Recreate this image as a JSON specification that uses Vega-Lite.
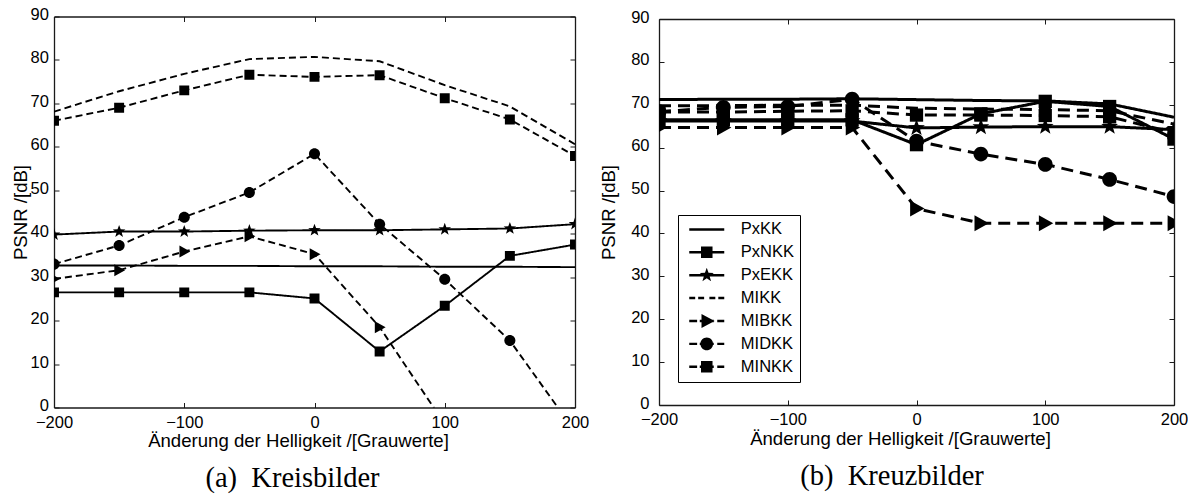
{
  "$schema": "https://vega.github.io/schema/vega-lite/v6.json",
  "background": "white",
  "padding": {"left": 11, "top": 6.5, "right": 0, "bottom": 0},
  "config": {
    "view": {"stroke": null},
    "font": "Liberation Sans",
    "axis": {
      "grid": false,
      "domainColor": "#1a1a1a",
      "domainWidth": 1.3,
      "tickColor": "#1a1a1a",
      "tickWidth": 1,
      "tickSize": -5,
      "labelFont": "Liberation Sans",
      "labelFontSize": 16.5,
      "labelColor": "black",
      "labelFlush": false,
      "labelOverlap": false,
      "titleFont": "Liberation Sans",
      "titleFontSize": 18.6,
      "titleFontWeight": "normal",
      "titleColor": "black"
    }
  },
  "datasets": {
    "a": [
      {"s": "PxKK", "x": -200, "y": 32.7}, {"s": "PxKK", "x": -150, "y": 32.7}, {"s": "PxKK", "x": -100, "y": 32.6}, {"s": "PxKK", "x": -50, "y": 32.6}, {"s": "PxKK", "x": 0, "y": 32.5}, {"s": "PxKK", "x": 50, "y": 32.5}, {"s": "PxKK", "x": 100, "y": 32.4}, {"s": "PxKK", "x": 150, "y": 32.4}, {"s": "PxKK", "x": 200, "y": 32.3},
      {"s": "PxNKK", "x": -200, "y": 26.5}, {"s": "PxNKK", "x": -150, "y": 26.5}, {"s": "PxNKK", "x": -100, "y": 26.5}, {"s": "PxNKK", "x": -50, "y": 26.5}, {"s": "PxNKK", "x": 0, "y": 25.1}, {"s": "PxNKK", "x": 50, "y": 12.9}, {"s": "PxNKK", "x": 100, "y": 23.4}, {"s": "PxNKK", "x": 150, "y": 34.9}, {"s": "PxNKK", "x": 200, "y": 37.5},
      {"s": "PxEKK", "x": -200, "y": 39.8}, {"s": "PxEKK", "x": -150, "y": 40.5}, {"s": "PxEKK", "x": -100, "y": 40.5}, {"s": "PxEKK", "x": -50, "y": 40.7}, {"s": "PxEKK", "x": 0, "y": 40.8}, {"s": "PxEKK", "x": 50, "y": 40.8}, {"s": "PxEKK", "x": 100, "y": 41.0}, {"s": "PxEKK", "x": 150, "y": 41.2}, {"s": "PxEKK", "x": 200, "y": 42.2},
      {"s": "MIKK", "x": -200, "y": 68.1}, {"s": "MIKK", "x": -150, "y": 72.8}, {"s": "MIKK", "x": -100, "y": 76.8}, {"s": "MIKK", "x": -50, "y": 80.2}, {"s": "MIKK", "x": 0, "y": 80.7}, {"s": "MIKK", "x": 50, "y": 79.7}, {"s": "MIKK", "x": 100, "y": 74.2}, {"s": "MIKK", "x": 150, "y": 69.3}, {"s": "MIKK", "x": 200, "y": 60.6},
      {"s": "MIBKK", "x": -200, "y": 29.6}, {"s": "MIBKK", "x": -150, "y": 31.6}, {"s": "MIBKK", "x": -100, "y": 35.9}, {"s": "MIBKK", "x": -50, "y": 39.4}, {"s": "MIBKK", "x": 0, "y": 35.3}, {"s": "MIBKK", "x": 50, "y": 18.5}, {"s": "MIBKK", "x": 100, "y": -3.8},
      {"s": "MIDKK", "x": -200, "y": 33.0}, {"s": "MIDKK", "x": -150, "y": 37.3}, {"s": "MIDKK", "x": -100, "y": 43.8}, {"s": "MIDKK", "x": -50, "y": 49.5}, {"s": "MIDKK", "x": 0, "y": 58.4}, {"s": "MIDKK", "x": 50, "y": 42.2}, {"s": "MIDKK", "x": 100, "y": 29.5}, {"s": "MIDKK", "x": 150, "y": 15.4}, {"s": "MIDKK", "x": 200, "y": -5.5},
      {"s": "MINKK", "x": -200, "y": 66.0}, {"s": "MINKK", "x": -150, "y": 69.0}, {"s": "MINKK", "x": -100, "y": 73.0}, {"s": "MINKK", "x": -50, "y": 76.6}, {"s": "MINKK", "x": 0, "y": 76.1}, {"s": "MINKK", "x": 50, "y": 76.5}, {"s": "MINKK", "x": 100, "y": 71.2}, {"s": "MINKK", "x": 150, "y": 66.3}, {"s": "MINKK", "x": 200, "y": 57.9}
    ],
    "b": [
      {"s": "PxKK", "x": -200, "y": 71.2}, {"s": "PxKK", "x": -150, "y": 71.3}, {"s": "PxKK", "x": -100, "y": 71.3}, {"s": "PxKK", "x": -50, "y": 71.4}, {"s": "PxKK", "x": 0, "y": 71.2}, {"s": "PxKK", "x": 50, "y": 71.0}, {"s": "PxKK", "x": 100, "y": 70.9}, {"s": "PxKK", "x": 150, "y": 70.2}, {"s": "PxKK", "x": 200, "y": 67.1},
      {"s": "PxNKK", "x": -200, "y": 66.5}, {"s": "PxNKK", "x": -150, "y": 66.5}, {"s": "PxNKK", "x": -100, "y": 66.5}, {"s": "PxNKK", "x": -50, "y": 66.5}, {"s": "PxNKK", "x": 0, "y": 60.7}, {"s": "PxNKK", "x": 50, "y": 67.9}, {"s": "PxNKK", "x": 100, "y": 70.8}, {"s": "PxNKK", "x": 150, "y": 69.6}, {"s": "PxNKK", "x": 200, "y": 62.0},
      {"s": "PxEKK", "x": -200, "y": 66.2}, {"s": "PxEKK", "x": -150, "y": 66.2}, {"s": "PxEKK", "x": -100, "y": 66.2}, {"s": "PxEKK", "x": -50, "y": 66.2}, {"s": "PxEKK", "x": 0, "y": 64.6}, {"s": "PxEKK", "x": 50, "y": 64.8}, {"s": "PxEKK", "x": 100, "y": 64.9}, {"s": "PxEKK", "x": 150, "y": 64.9}, {"s": "PxEKK", "x": 200, "y": 64.2},
      {"s": "MIKK", "x": -200, "y": 69.8}, {"s": "MIKK", "x": -150, "y": 69.8}, {"s": "MIKK", "x": -100, "y": 69.9}, {"s": "MIKK", "x": -50, "y": 69.9}, {"s": "MIKK", "x": 0, "y": 69.2}, {"s": "MIKK", "x": 50, "y": 69.0}, {"s": "MIKK", "x": 100, "y": 68.9}, {"s": "MIKK", "x": 150, "y": 68.6}, {"s": "MIKK", "x": 200, "y": 65.5},
      {"s": "MIBKK", "x": -200, "y": 64.7}, {"s": "MIBKK", "x": -150, "y": 64.7}, {"s": "MIBKK", "x": -100, "y": 64.7}, {"s": "MIBKK", "x": -50, "y": 64.7}, {"s": "MIBKK", "x": 0, "y": 45.8}, {"s": "MIBKK", "x": 50, "y": 42.4}, {"s": "MIBKK", "x": 100, "y": 42.4}, {"s": "MIBKK", "x": 150, "y": 42.4}, {"s": "MIBKK", "x": 200, "y": 42.4},
      {"s": "MIDKK", "x": -200, "y": 68.4}, {"s": "MIDKK", "x": -150, "y": 69.4}, {"s": "MIDKK", "x": -100, "y": 69.6}, {"s": "MIDKK", "x": -50, "y": 71.3}, {"s": "MIDKK", "x": 0, "y": 61.5}, {"s": "MIDKK", "x": 50, "y": 58.5}, {"s": "MIDKK", "x": 100, "y": 56.1}, {"s": "MIDKK", "x": 150, "y": 52.6}, {"s": "MIDKK", "x": 200, "y": 48.6},
      {"s": "MINKK", "x": -200, "y": 68.3}, {"s": "MINKK", "x": -150, "y": 68.3}, {"s": "MINKK", "x": -100, "y": 68.5}, {"s": "MINKK", "x": -50, "y": 68.6}, {"s": "MINKK", "x": 0, "y": 67.6}, {"s": "MINKK", "x": 50, "y": 67.6}, {"s": "MINKK", "x": 100, "y": 67.5}, {"s": "MINKK", "x": 150, "y": 67.2}, {"s": "MINKK", "x": 200, "y": 63.5}
    ]
  },
  "hconcat": [
    {
      "width": 521,
      "height": 391,
      "title": {"text": "(a)\u00a0 Kreisbilder", "orient": "bottom", "frame": "group", "font": "Liberation Serif", "fontSize": 28.5, "fontWeight": "normal", "color": "black", "anchor": "middle", "dx": -22, "offset": 14},
      "data": {"name": "a"},
      "layer": [
        {
          "mark": {"type": "line", "clip": true, "color": "black", "strokeWidth": 1.9},
          "encoding": {
            "x": {"field": "x", "type": "quantitative", "scale": {"domain": [-200, 200]}, "axis": {"values": [-200, -100, 0, 100, 200], "title": "Änderung der Helligkeit /[Grauwerte]", "labelPadding": 11.7, "titlePadding": 1, "titleX": 244}},
            "y": {"field": "y", "type": "quantitative", "scale": {"domain": [0, 90]}, "axis": {"values": [0, 10, 20, 30, 40, 50, 60, 70, 80, 90], "title": "PSNR /[dB]", "labelPadding": 10.6, "labelOffset": -2, "titlePadding": 0}},
            "detail": {"field": "s"},
            "strokeDash": {"field": "s", "type": "nominal", "scale": {"domain": ["PxKK", "PxNKK", "PxEKK", "MIKK", "MIBKK", "MIDKK", "MINKK"], "range": [[1, 0], [1, 0], [1, 0], [7, 4], [7, 4], [7, 4], [7, 4]]}, "legend": null}
          }
        },
        {
          "transform": [{"filter": "datum.s != 'PxKK' && datum.s != 'MIKK'"}],
          "mark": {"type": "point", "filled": true, "opacity": 1, "color": "black", "clip": true, "size": 144},
          "encoding": {
            "x": {"field": "x", "type": "quantitative", "axis": {"orient": "top", "labels": false, "title": null, "values": [-200, -100, 0, 100, 200]}},
            "y": {"field": "y", "type": "quantitative", "axis": {"orient": "right", "labels": false, "title": null, "values": [0, 10, 20, 30, 40, 50, 60, 70, 80, 90]}},
            "shape": {"field": "s", "type": "nominal", "legend": null, "scale": {"domain": ["PxNKK", "PxEKK", "MIBKK", "MIDKK", "MINKK"], "range": ["M-0.83,-0.83H0.83V0.83H-0.83Z", "M0,-1.1L0.265,-0.364L1.046,-0.34L0.428,0.139L0.647,0.89L0,0.45L-0.647,0.89L-0.428,0.139L-1.046,-0.34L-0.265,-0.364Z", "M-0.8,-1L1,0L-0.8,1Z", "M0.92,0A0.92,0.92,0,1,1,-0.92,0A0.92,0.92,0,1,1,0.92,0Z", "M-0.83,-0.83H0.83V0.83H-0.83Z"]}}
          }
        }
      ],
      "resolve": {"axis": {"x": "independent", "y": "independent"}}
    },
    {
      "width": 515,
      "height": 386,
      "title": {"text": "(b)\u00a0 Kreuzbilder", "orient": "bottom", "frame": "group", "font": "Liberation Serif", "fontSize": 28.5, "fontWeight": "normal", "color": "black", "anchor": "middle", "dx": -24.5, "offset": 14},
      "data": {"name": "b"},
      "layer": [
        {
          "mark": {"type": "line", "clip": true, "color": "black", "strokeWidth": 3},
          "encoding": {
            "x": {"field": "x", "type": "quantitative", "scale": {"domain": [-200, 200]}, "axis": {"values": [-200, -100, 0, 100, 200], "title": "Änderung der Helligkeit /[Grauwerte]", "labelPadding": 11.7, "titlePadding": 1, "titleX": 241}},
            "y": {"field": "y", "type": "quantitative", "scale": {"domain": [0, 90]}, "axis": {"values": [0, 10, 20, 30, 40, 50, 60, 70, 80, 90], "title": "PSNR /[dB]", "labelPadding": 15, "labelOffset": -2, "titlePadding": 12.6}},
            "detail": {"field": "s"},
            "strokeDash": {"field": "s", "type": "nominal", "scale": {"domain": ["PxKK", "PxNKK", "PxEKK", "MIKK", "MIBKK", "MIDKK", "MINKK"], "range": [[1, 0], [1, 0], [1, 0], [12, 7], [12, 7], [12, 7], [12, 7]]}, "legend": null}
          }
        },
        {
          "transform": [{"filter": "datum.s != 'PxKK' && datum.s != 'MIKK'"}],
          "mark": {"type": "point", "filled": true, "opacity": 1, "color": "black", "clip": true, "size": 256},
          "encoding": {
            "x": {"field": "x", "type": "quantitative", "axis": {"orient": "top", "labels": false, "title": null, "values": [-200, -100, 0, 100, 200]}},
            "y": {"field": "y", "type": "quantitative", "axis": {"orient": "right", "labels": false, "title": null, "values": [0, 10, 20, 30, 40, 50, 60, 70, 80, 90]}},
            "shape": {"field": "s", "type": "nominal", "legend": null, "scale": {"domain": ["PxNKK", "PxEKK", "MIBKK", "MIDKK", "MINKK"], "range": ["M-0.83,-0.83H0.83V0.83H-0.83Z", "M0,-1.1L0.265,-0.364L1.046,-0.34L0.428,0.139L0.647,0.89L0,0.45L-0.647,0.89L-0.428,0.139L-1.046,-0.34L-0.265,-0.364Z", "M-0.8,-1L1,0L-0.8,1Z", "M0.92,0A0.92,0.92,0,1,1,-0.92,0A0.92,0.92,0,1,1,0.92,0Z", "M-0.83,-0.83H0.83V0.83H-0.83Z"]}}
          }
        },
        {
          "transform": [{"filter": "false"}],
          "mark": {"type": "point", "filled": true, "opacity": 1, "color": "black"},
          "encoding": {
            "x": {"field": "x", "type": "quantitative", "axis": null},
            "y": {"field": "y", "type": "quantitative", "axis": null},
            "shape": {
              "field": "s", "type": "nominal",
              "scale": {
                "domain": ["PxKK", "PxNKK", "PxEKK", "MIKK", "MIBKK", "MIDKK", "MINKK"],
                "range": [
                  "M-1,-0.07H1V0.07H-1Z",
                  "M-1,-0.07H1V0.07H-1ZM-0.33,-0.33H0.33V0.33H-0.33Z",
                  "M-1,-0.07H1V0.07H-1ZM0,-0.42L0.101,-0.139L0.4,-0.13L0.164,0.053L0.247,0.34L0,0.172L-0.247,0.34L-0.164,0.053L-0.4,-0.13L-0.101,-0.139Z",
                  "M-1,-0.07H-0.66V0.07H-1ZM-0.49,-0.07H-0.15V0.07H-0.49ZM0.15,-0.07H0.49V0.07H0.15ZM0.66,-0.07H1V0.07H0.66Z",
                  "M-1,-0.07H-0.55V0.07H-1ZM-0.4,-0.07H0.4V0.07H-0.4ZM0.6,-0.07H1V0.07H0.6ZM-0.3,-0.4L0.45,0L-0.3,0.4Z",
                  "M-1,-0.07H-0.55V0.07H-1ZM-0.4,-0.07H0.4V0.07H-0.4ZM0.6,-0.07H1V0.07H0.6ZM0.36,0A0.36,0.36,0,1,1,-0.36,0A0.36,0.36,0,1,1,0.36,0Z",
                  "M-1,-0.07H-0.55V0.07H-1ZM-0.4,-0.07H0.4V0.07H-0.4ZM0.6,-0.07H1V0.07H0.6ZM-0.33,-0.33H0.33V0.33H-0.33Z"
                ]
              },
              "legend": {
                "orient": "none", "legendX": 19, "legendY": 196,
                "title": null,
                "direction": "vertical",
                "labelFont": "Liberation Sans", "labelFontSize": 16.5, "labelColor": "black",
                "labelExpr": "datum.label + '\u00a0\u00a0\u00a0\u00a0'",
                "padding": 5.4, "clipHeight": 18, "rowPadding": 4.9, "symbolOffset": 5.85, "labelOffset": 16.6,
                "strokeColor": "black", "fillColor": "white",
                "symbolSize": 1225, "symbolFillColor": "black", "symbolStrokeWidth": 0, "symbolOpacity": 1
              }
            }
          }
        }
      ],
      "resolve": {"axis": {"x": "independent", "y": "independent"}, "scale": {"shape": "independent"}, "legend": {"shape": "independent"}}
    }
  ],
  "spacing": 84,
  "bounds": "flush",
  "center": true,
  "resolve": {
    "scale": {"x": "independent", "y": "independent", "strokeDash": "independent", "shape": "independent"},
    "legend": {"strokeDash": "independent", "shape": "independent"}
  }
}
